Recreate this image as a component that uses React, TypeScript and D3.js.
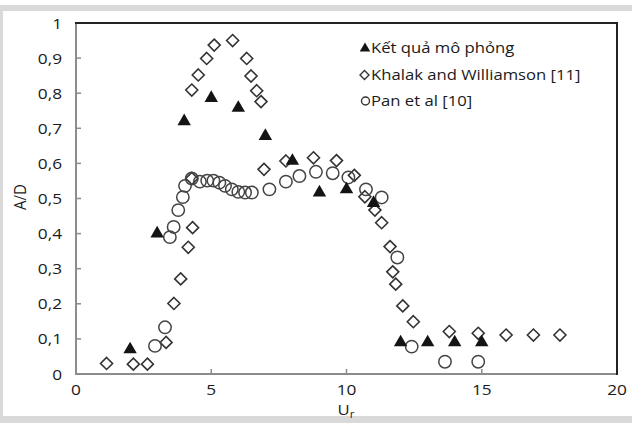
import React, { useEffect, useRef } from 'react';
import * as d3 from 'd3';

// Kết quả mô phỏng (simulation)
const simU = [2, 3, 4, 5, 6, 7, 8, 9, 10, 11, 12, 13, 14, 15];
const simAD = [0.07, 0.4, 0.72, 0.786, 0.758, 0.678, 0.607, 0.517, 0.526, 0.487, 0.09, 0.09, 0.09, 0.09];

// Khalak and Williamson [11]
const khalakU = [1.13, 2.12, 2.64, 3.33, 3.62, 3.87, 4.15, 4.31, 4.28, 4.28, 4.52, 4.83, 5.11, 5.79, 6.31, 6.47, 6.68, 6.84,
  6.95, 7.76, 8.78, 9.63, 10.29, 10.68, 11.05, 11.3, 11.61, 11.71, 11.82, 12.08, 12.47, 13.8, 14.87, 15.9, 16.91, 17.89];
const khalakAD = [0.03, 0.028, 0.028, 0.09, 0.201, 0.271, 0.361, 0.417, 0.557, 0.809, 0.852, 0.899, 0.937, 0.95, 0.899, 0.849,
  0.807, 0.776, 0.583, 0.607, 0.616, 0.608, 0.566, 0.505, 0.467, 0.431, 0.363, 0.291, 0.256, 0.194, 0.149, 0.121, 0.116,
  0.111, 0.111, 0.111];

// Pan et al [10]
const panU = [2.92, 3.29, 3.47, 3.61, 3.78, 3.95, 4.03, 4.28, 4.58, 4.85, 5.08, 5.3, 5.51, 5.76, 6.0, 6.25, 6.5, 7.15, 7.76,
  8.26, 8.87, 9.49, 10.07, 10.72, 11.3, 11.88, 12.41, 13.64, 14.87];
const panAD = [0.08, 0.133, 0.39, 0.419, 0.467, 0.504, 0.536, 0.557, 0.548, 0.551, 0.551, 0.545, 0.536, 0.526, 0.519, 0.517,
  0.517, 0.526, 0.548, 0.564, 0.576, 0.572, 0.56, 0.526, 0.503, 0.332, 0.078, 0.035, 0.035];

const xTicks = [0, 5, 10, 15, 20];
const yTicks = [0, 0.1, 0.2, 0.3, 0.4, 0.5, 0.6, 0.7, 0.8, 0.9, 1];
const legendLabels = ['Kết quả mô phỏng', 'Khalak and Williamson [11]', 'Pan et al [10]'];

const W = 632;
const H = 423;
const FONT = '"Open Sans", sans-serif';
const SX = 1.15; // the source figure is stretched sideways

function App() {
  const ref = useRef<SVGSVGElement>(null);

  useEffect(() => {
    const svg = d3.select(ref.current);
    svg.selectAll('*').remove();

    const box = (x0: number, y0: number, w: number, h: number, c: string) =>
      svg.append('rect').attr('x', x0).attr('y', y0).attr('width', w).attr('height', h).attr('fill', c);

    // outer frame
    box(0, 5, W, H - 5, '#d9d9d9');
    box(3, 11, W - 3, 405, '#fff');

    const left = 76, right = 617, top = 23, bottom = 374;
    const x = d3.scaleLinear().domain([0, 20]).range([left, right]);
    const y = d3.scaleLinear().domain([0, 1]).range([bottom, top]);

    // plot box built from stacked fills: dark top/right edge, gray left/bottom edge
    box(left - 1, top - 1, right - left + 2, bottom - top + 2, '#222');
    box(left - 1, top + 1, right - left, bottom - top, '#8c8c8c');
    box(left + 1, top + 1, right - left - 2, bottom - top - 2, '#fff');

    // inward ticks
    yTicks.slice(1, -1).forEach((d) => box(left + 1, y(d) - 0.75, 4, 1.5, '#8c8c8c'));
    xTicks.slice(1, -1).forEach((d) => box(x(d) - 0.75, bottom - 5, 1.5, 4, '#8c8c8c'));

    const label = (tx: number, ty: number, anchor: string, size: number) =>
      svg.append('text')
        .attr('transform', `translate(${tx},${ty}) scale(${SX},1)`)
        .attr('text-anchor', anchor)
        .attr('font-family', FONT).attr('font-size', size)
        .attr('fill', '#1a1a1a');

    yTicks.forEach((d) => {
      label(62, y(d) + 5.5, 'end', 15).text(d3.format('.1~f')(d).replace('.', ','));
    });
    xTicks.forEach((d) => {
      label(x(d), 395, 'middle', 15).text(String(d));
    });

    // axis titles
    const xt = label(346, 415, 'middle', 14.5);
    xt.append('tspan').text('U');
    xt.append('tspan').attr('dy', 3).attr('font-size', 10).text('r');

    svg.append('text').attr('transform', 'translate(26,197) rotate(-90) scale(1,1.1)').attr('text-anchor', 'middle')
      .attr('font-family', FONT).attr('font-size', 15).attr('fill', '#1a1a1a').text('A/D');

    const tri = d3.symbol().type(d3.symbolTriangle).size(78);
    const dia = (cx: number, cy: number) => `M${cx},${cy - 6}L${cx + 6},${cy}L${cx},${cy + 6}L${cx - 6},${cy}Z`;

    // Khalak diamonds
    svg.append('g').selectAll('path').data(khalakU.map((u, i) => [u, khalakAD[i]])).join('path')
      .attr('d', (d) => dia(x(d[0]), y(d[1])))
      .attr('fill', 'none').attr('stroke', '#333').attr('stroke-width', 1.6);

    // Pan circles
    svg.append('g').selectAll('circle').data(panU.map((u, i) => [u, panAD[i]])).join('circle')
      .attr('cx', (d) => x(d[0])).attr('cy', (d) => y(d[1])).attr('r', 6.2)
      .attr('fill', 'none').attr('stroke', '#444').attr('stroke-width', 1.5);

    // simulation triangles
    svg.append('g').selectAll('path').data(simU.map((u, i) => [u, simAD[i]])).join('path')
      .attr('transform', (d) => `translate(${x(d[0])},${y(d[1])})`)
      .attr('d', tri).attr('fill', '#141414');

    // legend
    const rows = [53, 80, 106];
    legendLabels.forEach((txt, i) => {
      const cy = rows[i] - 5;
      if (i === 0) svg.append('path').attr('transform', `translate(365,${cy + 0.5})`).attr('d', d3.symbol().type(d3.symbolTriangle).size(48)).attr('fill', '#141414');
      if (i === 1) svg.append('path').attr('d', `M364.5,${cy - 4.5}L369,${cy}L364.5,${cy + 4.5}L360,${cy}Z`).attr('fill', 'none').attr('stroke', '#333').attr('stroke-width', 1.4);
      if (i === 2) svg.append('circle').attr('cx', 365.5).attr('cy', cy).attr('r', 4).attr('fill', 'none').attr('stroke', '#333').attr('stroke-width', 1.4);
      label(371, rows[i], 'start', 14.5).text(txt);
    });
  }, []);

  return (
    <svg ref={ref} width={W} height={H} style={{ position: 'absolute', left: 0, top: 0, background: '#fff' }} />
  );
}

export default App;
